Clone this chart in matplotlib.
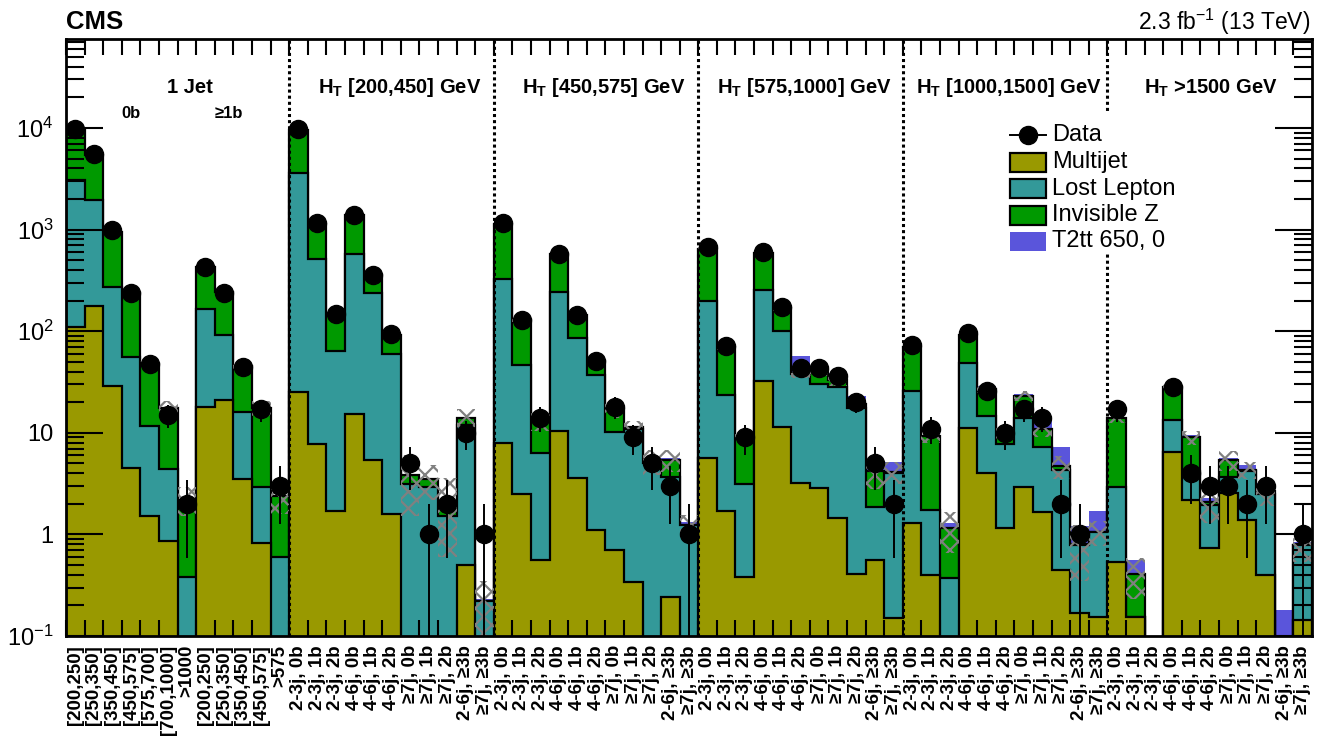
import numpy as np
import matplotlib
matplotlib.use("Agg")
import matplotlib.pyplot as plt
from matplotlib.patches import Rectangle
from matplotlib.lines import Line2D
from matplotlib.ticker import LogLocator, NullFormatter, FixedLocator, FixedFormatter

plt.rcParams['font.family'] = ['Liberation Sans', 'DejaVu Sans']
plt.rcParams['mathtext.default'] = 'regular'
plt.rcParams['hatch.color'] = '#808080'
plt.rcParams['hatch.linewidth'] = 1.6

# ---------------- bin labels ----------------
one_jet_0b_labels = ["[200,250]", "[250,350]", "[350,450]", "[450,575]",
                     "[575,700]", "[700,1000]", ">1000"]
one_jet_1b_labels = ["[200,250]", "[250,350]", "[350,450]", "[450,575]", ">575"]
multijet_bin_labels = ["2-3j, 0b", "2-3j, 1b", "2-3j, 2b",
                       "4-6j, 0b", "4-6j, 1b", "4-6j, 2b",
                       "\u22657j, 0b", "\u22657j, 1b", "\u22657j, 2b",
                       "2-6j, \u22653b", "\u22657j, \u22653b"]
ht_regions = ["$H_{T}$ [200,450] GeV", "$H_{T}$ [450,575] GeV",
              "$H_{T}$ [575,1000] GeV", "$H_{T}$ [1000,1500] GeV",
              "$H_{T}$ >1500 GeV"]
bin_labels = one_jet_0b_labels + one_jet_1b_labels + multijet_bin_labels * len(ht_regions)

# ---------------- event yields per bin ----------------
multijet = [110, 175, 29, 4.5, 1.5, 0.86, 0, 18, 21, 3.5, 0.82, 0,
            25, 7.8, 1.7, 15.3, 5.4, 1.6, 0, 0, 0, 0.5, 0,
            8.0, 2.5, 0.56, 10.4, 3.6, 1.1, 0.70, 0.34, 0, 0.24, 0,
            5.7, 1.7, 0.38, 32.6, 11.5, 3.2, 2.85, 1.44, 0.41, 0.56, 0.15,
            1.29, 0.40, 0, 11.1, 4.0, 1.15, 2.95, 1.65, 0.45, 0.17, 0.155,
            0.54, 0.155, 0, 6.5, 2.2, 0.73, 2.54, 1.39, 0.40, 0, 0.144]

lost_lepton = [2990, 1775, 241, 51.5, 10.2, 3.54, 0.38, 147, 71, 12.5, 2.08, 0.6,
               3575, 505, 62.3, 560, 230.6, 58.4, 3.1, 2.9, 1.5, 11.5, 0.22,
               319, 43.5, 5.74, 230.6, 81.4, 35.9, 9.5, 10.66, 5.0, 3.46, 1.25,
               194.3, 21.8, 2.72, 222.4, 89.5, 34.8, 27.15, 26.96, 17.1, 1.3, 3.85,
               24.7, 1.34, 0.375, 37.9, 10.6, 6.65, 10.95, 5.65, 3.85, 0.62, 0.905,
               2.41, 0, 0, 6.8, 2.0, 1.22, 1.16, 2.81, 2.1, 0, 0.646]

invisible_z = [6400, 3450, 680, 179, 36.3, 13.1, 1.82, 265, 153, 29, 14.6, 1.8,
               6000, 617, 81, 825, 119, 32, 0.7, 0.6, 0.6, 2.0, 0,
               803, 84, 6.7, 339, 60, 14, 6.8, 0.3, 0.3, 1.7, 0,
               450, 46.5, 5.6, 335, 67, 0.5, 11, 4.6, 1.5, 2.34, 0.1,
               44, 7.46, 0.785, 43, 12.4, 2.4, 9.1, 3.7, 0.4, 0.01, 0,
               10.95, 0.255, 0, 14.7, 4.8, 0.15, 1.7, 0.1, 0.2, 0, 0]

t2tt_650_0 = [0, 0, 0, 0, 0, 0, 0, 0, 0, 0, 0, 0,
              0, 0, 0, 0, 0, 0, 0, 0, 0, 0.3, 0.01,
              0, 0, 0, 0, 0, 0.5, 0.2, 0.3, 0.2, 0.3, 0.08,
              0, 0, 0, 0, 7, 19, 1, 6, 4, 0.4, 1.0,
              0, 0, 0.13, 0, 2, 0.6, 1, 2.3, 2.5, 0.4, 0.64,
              0.1, 0.15, 0, 0, 0.5, 0.2, 0.2, 0.5, 0.5, 0.18, 0.06]

bkg_uncertainty = [300, 200, 40, 10, 3, 3, 0.7, 20, 12, 3, 3, 0.8,
                   300, 50, 8, 60, 15, 5, 2.3, 1.3, 1.5, 3, 0.13,
                   50, 8, 2.5, 25, 8, 4, 3, 1.7, 1.5, 1.3, 0.3,
                   30, 5, 1, 30, 10, 4, 5, 4, 2.5, 1.4, 1,
                   5, 1.3, 0.5, 6, 2.5, 1.5, 2.5, 2, 1.2, 0.45, 0.3,
                   1.5, 0.18, 0, 3, 1.5, 0.8, 1.2, 0.8, 0.8, 0, 0.25]

data = [9800, 5500, 980, 235, 48, 15, 2, 430, 240, 44, 17, 3,
        9800, 1150, 148, 1400, 357, 93, 5, 1, 2, 10, 1,
        1150, 130, 14, 580, 145, 51, 18, 9, 5, 3, 1,
        675, 71, 9, 600, 172, 43, 43, 36, 20, 5, 2,
        73, 11, 0, 95, 26, 10, 17, 14, 2, 1, 0,
        17, 0, 0, 28, 4, 3, 3, 2, 3, 0, 1]

# ---------------- style ----------------
c_multijet = '#999900'
c_lostlep = '#339999'
c_invz = '#009900'
c_signal = '#5a55db'

W, H = 1317, 740
fig = plt.figure(figsize=(W / 100, H / 100), dpi=100)
ax_l, ax_r, ax_t, ax_b = 66, 1312, 39, 636
ax = fig.add_axes([ax_l / W, 1 - ax_b / H, (ax_r - ax_l) / W, (ax_b - ax_t) / H])

nb = len(bin_labels)
edges = np.arange(nb + 1, dtype=float)
centers = edges[:-1] + 0.5
floor = 1e-3

mj = np.array(multijet, float)
ll = np.array(lost_lepton, float)
iz = np.array(invisible_z, float)
sg = np.array(t2tt_650_0, float)
c1 = mj
c2 = c1 + ll
c3 = c2 + iz
c4 = c3 + sg

ax.set_yscale('log')

# stacked histograms, largest cumulative first
ax.stairs(np.maximum(c4, floor), edges, baseline=floor, fill=True,
          facecolor=c_signal, edgecolor='none', linewidth=0, zorder=1.0)
for vals, col, z in [(c3, c_invz, 1.1), (c2, c_lostlep, 1.2), (c1, c_multijet, 1.3)]:
    ax.stairs(np.maximum(vals, floor), edges, baseline=floor, fill=True,
              facecolor=col, edgecolor='black', linewidth=1.6, zorder=z)

# background uncertainty band
err = np.array(bkg_uncertainty, float)
upper = np.where(err > 0, c3 + err, floor)
lower = np.where(err > 0, np.maximum(c3 - err, floor), floor)
ax.stairs(upper, edges, baseline=lower, fill=True, facecolor='none',
          edgecolor='#808080', linewidth=0, hatch='xx', zorder=2)

# region separators
for xs in [12, 23, 34, 45, 56]:
    ax.axvline(xs, color='black', linestyle=(0, (1, 1)), linewidth=2.2, zorder=4)

# data points
d = np.array(data, float)
m = d > 0
yerr_hi = np.sqrt(d[m])
yerr_lo = np.minimum(np.sqrt(d[m]), d[m] - floor)
ax.errorbar(centers[m], d[m], yerr=[yerr_lo, yerr_hi], fmt='o', color='black',
            markersize=13, elinewidth=1.4, capsize=0, zorder=6)

ax.set_xlim(0, nb)
ax.set_ylim(0.1, 7.5e4)

# axes decoration
for sp in ax.spines.values():
    sp.set_linewidth(2.0)
    sp.set_zorder(7)

ax.yaxis.set_major_locator(FixedLocator([0.1, 1, 10, 100, 1e3, 1e4]))
ax.yaxis.set_major_formatter(FixedFormatter(['$10^{-1}$', '1', '10', '$10^{2}$',
                                             '$10^{3}$', '$10^{4}$']))
ax.yaxis.set_minor_locator(LogLocator(base=10, subs=np.arange(2, 10), numticks=30))
ax.yaxis.set_minor_formatter(NullFormatter())
ax.tick_params(axis='y', which='major', direction='in', length=26.5, width=1.5,
               left=True, right=True, labelsize=17, pad=9)
ax.tick_params(axis='y', which='minor', direction='in', length=13, width=1.5,
               left=True, right=True)

ax.set_xticks(centers)
ax.set_xticklabels(bin_labels, rotation=90, fontsize=13.5, fontweight='bold')
ax.set_xticks(edges, minor=True)
ax.tick_params(axis='x', which='major', length=0, pad=6.5)
ax.tick_params(axis='x', which='minor', direction='in', length=11.5, width=1.5,
               top=True, bottom=True)

# region titles
xt = ax.get_xaxis_transform()
ax.text(6.67, 0.918, "1 Jet", transform=xt, ha='center', va='center',
        fontsize=14.5, fontweight='bold', zorder=8)
ax.text(3.49, 0.875, "0b", transform=xt, ha='center', va='center',
        fontsize=12, fontweight='bold', zorder=8)
ax.text(8.76, 0.875, "\u22651b", transform=xt, ha='center', va='center',
        fontsize=12, fontweight='bold', zorder=8)
for label, xc in zip(ht_regions, [17.96, 28.9, 39.7, 50.7, 61.56]):
    ax.text(xc, 0.918, label, transform=xt, ha='center', va='center',
            fontsize=14.5, fontweight='bold', zorder=8)

# header texts
fig.text(66 / W, 1 - 29 / H, "CMS", fontsize=18.5, fontweight='bold',
         ha='left', va='baseline')
fig.text(1310 / W, 1 - 30 / H, "2.3 fb$^{-1}$ (13 TeV)", fontsize=16.5,
         ha='right', va='baseline')

# legend
def af(px, py):
    return ((px - ax_l) / (ax_r - ax_l), (ax_b - py) / (ax_b - ax_t))

x0, y0 = af(1000, 254)
x1, y1 = af(1200, 113)
ax.add_patch(Rectangle((x0, y0), x1 - x0, y1 - y0, transform=ax.transAxes,
                       facecolor='white', edgecolor='none', zorder=9))
lx0, _ = af(1010, 0)
lx1, _ = af(1046, 0)
txt_x, _ = af(1052, 0)
_, ydat = af(0, 135)
ax.add_line(Line2D([lx0, lx1], [ydat, ydat], transform=ax.transAxes,
                   color='black', linewidth=1.4, zorder=10))
ax.add_line(Line2D([(lx0 + lx1) / 2], [ydat], transform=ax.transAxes,
                   marker='o', markersize=13, color='black', zorder=10))
ax.text(txt_x, ydat, "Data", transform=ax.transAxes, fontsize=17,
        ha='left', va='center', zorder=10)
entries = [("Multijet", c_multijet, 'black', 162),
           ("Lost Lepton", c_lostlep, 'black', 188.5),
           ("Invisible Z", c_invz, 'black', 215),
           ("T2tt 650, 0", c_signal, 'none', 241.5)]
for name, fc, ec, yc in entries:
    bx0, by0 = af(1010, yc + 9.5)
    bx1, by1 = af(1046, yc - 9.5)
    ax.add_patch(Rectangle((bx0, by0), bx1 - bx0, by1 - by0, transform=ax.transAxes,
                           facecolor=fc, edgecolor=ec, linewidth=1.6, zorder=10))
    _, ty = af(0, yc)
    ax.text(txt_x, ty, name, transform=ax.transAxes, fontsize=17,
            ha='left', va='center', zorder=10)

fig.savefig("out.png", dpi=100)
